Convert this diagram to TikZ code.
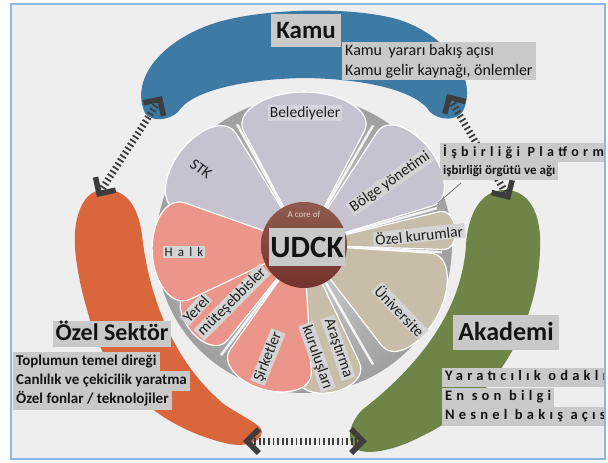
\documentclass[tikz,border=0pt]{standalone}
\usepackage{fontspec}
\setmainfont{Carlito}
\newfontfamily\wideA[LetterSpace=31]{Carlito}
\newfontfamily\wideB[LetterSpace=29]{Carlito}
\newfontfamily\wideC[LetterSpace=40]{Carlito}
\usetikzlibrary{arrows.meta}
\definecolor{kamublue}{HTML}{3D7BA5}
\definecolor{ozelorange}{HTML}{DA663C}
\definecolor{akagreen}{HTML}{6F8548}
\definecolor{lavender}{HTML}{C6C2D0}
\definecolor{pinkp}{HTML}{EC958B}
\definecolor{tanp}{HTML}{C7BDA9}
\definecolor{boxgray}{HTML}{C9C9C9}
\definecolor{bggray}{HTML}{EEEEEE}
\definecolor{framebl}{HTML}{8BB8E8}
\definecolor{linkgray}{HTML}{3D3D3D}
\definecolor{coretop}{HTML}{8E5C4F}
\definecolor{corebot}{HTML}{74332C}
\definecolor{corelight}{HTML}{EAD3C9}
\newcommand{\petal}[5]{%
 \pgfmathsetmacro\pr{#2-#4}%
 \pgfmathsetmacro\pphi{atan(#3/\pr)}%
 \pgfmathsetmacro\pcx{\pr+0.6*#4*cos(\pphi)}%
 \pgfmathsetmacro\pcy{#3+0.6*#4*sin(\pphi)}%
 \pgfmathsetmacro\pcz{0.6*#3}%
 \filldraw[fill=#5, draw=white, line width=1.2pt, shift={(C)}, rotate=#1]
 (0,0) -- (\pr,-#3) .. controls (\pcx,-\pcy) and (#2,-\pcz) .. (#2,0)
 .. controls (#2,\pcz) and (\pcx,\pcy) .. (\pr,#3) -- cycle;}
\tikzset{
 box/.style={fill=boxgray, text=black!92, inner xsep=3pt, inner ysep=1.5pt},
 titlebox/.style={box, inner xsep=5pt, inner ysep=5pt},
 petallbl/.style={text=black!88, inner xsep=2pt, inner ysep=1pt, font=\fontsize{15.5}{18}\selectfont},
 plbox/.style={petallbl, fill=boxgray!80!white},
 descl/.style={box, anchor=west, font=\fontsize{15}{18}\selectfont\bfseries, text height=11.5pt, text depth=4pt, inner ysep=2pt},
 widel/.style={box, anchor=west, font=\fontsize{14.5}{18}\selectfont\wideB\bfseries, text height=11pt, text depth=4pt, inner ysep=2pt},
 link/.style={draw=linkgray, line width=7pt, dash pattern=on 1.8pt off 2.8pt,
   {Straight Barb[length=12pt,width=24pt,line width=5.5pt]}-{Straight Barb[length=12pt,width=24pt,line width=5.5pt]}},
}
\begin{document}
\begin{tikzpicture}[x=1pt,y=-1pt]
\useasboundingbox (0,0) rectangle (608,463);
\fill[white] (0,0) rectangle (608,463);
\fill[bggray] (11,4) rectangle (605,459);
\begin{scope}
\clip (11,4) rectangle (605,459);
% Kamu band
\fill[kamublue] (145,113) .. controls (130,80) and (160,42) .. (212,24)
 .. controls (255,9) and (350,5) .. (400,20)
 .. controls (450,37) and (478,80) .. (463,111)
 .. controls (457,121) and (440,121) .. (430,112)
 .. controls (418,92) and (370,79) .. (305,78)
 .. controls (240,79) and (190,92) .. (178,112)
 .. controls (168,121) and (151,122) .. (145,113) -- cycle;
% Ozel sektor band
\fill[ozelorange] (103,190) .. controls (125,188) and (138,205) .. (142,235)
 .. controls (148,290) and (170,360) .. (225,405)
 .. controls (245,418) and (262,425) .. (262,432)
 .. controls (260,445) and (240,447) .. (225,443)
 .. controls (170,430) and (110,390) .. (90,320)
 .. controls (78,280) and (70,240) .. (78,215)
 .. controls (83,198) and (92,190) .. (103,190) -- cycle;
% Akademi band
\fill[akagreen] (505,190) .. controls (530,190) and (542,215) .. (540,250)
 .. controls (538,320) and (500,400) .. (420,437)
 .. controls (395,450) and (370,455) .. (358,450)
 .. controls (345,444) and (348,425) .. (362,410)
 .. controls (420,365) and (462,310) .. (466,245)
 .. controls (468,215) and (480,190) .. (505,190) -- cycle;
% flower
\coordinate (C) at (304,245);
\shade[inner color=gray!35, outer color=gray!75] (C) circle[radius=148];
\foreach \a in {119,60,15.5,-3,-60,-127,203,162}
  \draw[white, line width=2.5pt, opacity=.85, shift={(C)}, rotate=\a] (40,0) -- (138,0);
\petal{143}{155}{48}{34}{lavender}
\petal{37}{158}{46}{32}{lavender}
\petal{6}{152}{19}{14}{tanp}
\petal{-28}{151}{52}{36}{tanp}
\petal{-79}{150}{32}{24}{tanp}
\petal{-106}{150}{42}{30}{pinkp}
\petal{-144}{142}{32}{24}{pinkp}
\petal{183}{152}{48}{36}{pinkp}
\petal{90}{153}{60}{40}{lavender}
\shade[top color=coretop, bottom color=corebot] (C) circle[radius=43];
% leader line
\coordinate (ld1) at (461,183);
\coordinate (ld2) at (438,203);
\draw[linkgray!70, line width=0.8pt] (ld1) -- (ld2);
% connectors
\coordinate (kL) at (162,96);
\coordinate (oT) at (97,197);
\coordinate (kR) at (447,94);
\coordinate (aT) at (510,200);
\coordinate (oB) at (243,441);
\coordinate (aB) at (367,441);
\draw[link] (kL) -- (oT);
\draw[link] (kR) -- (aT);
\draw[link] (oB) -- (aB);
% petal labels
\node[text=corelight, font=\fontsize{9}{10}\selectfont] (core) at (304,214) {A core of};
\node[petallbl, fill=lavender!70!white] (bel) at (305,113) {Belediyeler};
\node[petallbl, rotate=-37] (stk) at (201,169) {STK};
\node[plbox, rotate=35] (bolge) at (390,182) {Bölge yönetimi};
\node[plbox, rotate=6] (ozk) at (419,235) {Özel kurumlar};
\node[plbox, rotate=-46] (uni) at (400,311) {Üniversite};
\node[plbox, rotate=-71] (ar1) at (338,348) {Araştırma};
\node[plbox, rotate=-71] (ar2) at (317,357) {kuruluşları};
\node[plbox, rotate=68] (sir) at (268,357) {Şirketler};
\node[plbox, rotate=47] (yer1) at (196,309) {Yerel};
\node[plbox, rotate=45] (yer2) at (232,302) {müteşebbisler};
\node[plbox, font=\fontsize{13}{15}\selectfont\wideC] (halk) at (184,252) {Halk};
\node[box, font=\fontsize{31}{34}\selectfont\bfseries, text height=22pt, text depth=2pt, inner ysep=7pt, inner xsep=1.5pt] (udck) at (307,247) {UDCK};
% titles
\node[titlebox, font=\fontsize{25}{30}\selectfont\bfseries, text height=18pt, text depth=3pt, inner ysep=6pt] (kamu) at (306,30.5) {Kamu};
\node[box, anchor=north west, align=left, font=\fontsize{16}{20}\selectfont, inner ysep=2pt] (kamudesc) at (342,42) {Kamu\hspace{3pt} yararı bakış açısı\\Kamu gelir kaynağı, önlemler};
\node[titlebox, font=\fontsize{24}{28}\selectfont\bfseries, text height=17pt, text depth=4pt, inner ysep=2.5pt, inner xsep=3pt] (ozel) at (112,334) {Özel Sektör};
\node[descl] (o1) at (13,362) {Toplumun temel direği};
\node[descl] (o2) at (13,381) {Canlılık ve çekicilik yaratma};
\node[descl] (o3) at (13,400) {Özel fonlar / teknolojiler};
\node[titlebox, font=\fontsize{26}{30}\selectfont\bfseries, text height=19pt, text depth=4pt, inner ysep=6pt] (akad) at (506,332.5) {Akademi};
\node[widel] (a1) at (442,377) {Yaratıcılık odaklı};
\node[widel] (a2) at (442,397) {En son bilgi};
\node[widel] (a3) at (442,416) {Nesnel bakış açısı};
\node[box, anchor=west, font=\fontsize{14}{16}\selectfont\wideA\bfseries, text height=11pt, text depth=3.5pt, inner ysep=2pt] (isb1) at (440,152.5) {İşbirliği Platform};
\node[box, anchor=west, font=\fontsize{13}{15}\selectfont\bfseries, text height=10pt, text depth=3.5pt, inner ysep=2pt] (isb2) at (440,171) {işbirliği örgütü ve ağı};
\end{scope}
\draw[framebl, line width=2pt] (11,4) rectangle (605,459);
\end{tikzpicture}
\end{document}
